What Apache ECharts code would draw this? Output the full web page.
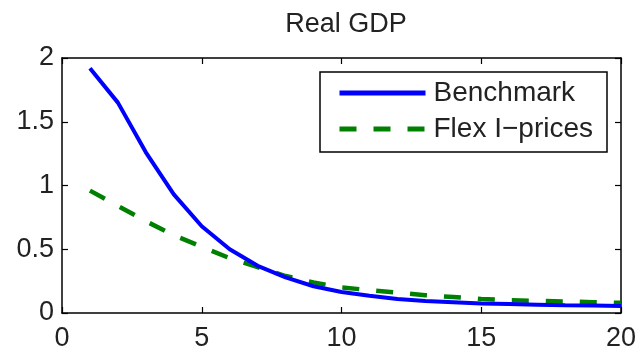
<!DOCTYPE html>
<html>
<head>
<meta charset="utf-8">
<script src="https://cdn.jsdelivr.net/npm/echarts@6/dist/echarts.min.js"></script>
<style>html,body{margin:0;padding:0;background:#fff}#c{width:640px;height:353px}</style>
</head>
<body>
<div id="c"></div>
<script>
var periods = [1,2,3,4,5,6,7,8,9,10,11,12,13,14,15,16,17,18,19,20];
var benchmark = [1.92,1.65,1.26,0.93,0.68,0.50,0.37,0.28,0.21,0.165,0.135,0.11,0.095,0.085,0.075,0.07,0.065,0.06,0.058,0.055];
var flexIPrices = [0.96,0.84,0.72,0.61,0.52,0.43,0.36,0.29,0.24,0.20,0.18,0.16,0.14,0.125,0.11,0.10,0.095,0.09,0.085,0.08];
var seriesNames = ['Benchmark','Flex I\u2212prices'];
var title = 'Real GDP';
var xTicks = {min:0, max:20, interval:5};
var yTicks = {min:0, max:2, interval:0.5};

function pairs(xs, ys){ return xs.map(function(x,i){return [x, ys[i]];}); }
var font = 'Liberation Sans, Arial, sans-serif';
var txt = '#222';
var axisBase = function(pos, t, showLabel, isX){
  return {
    type:'value', position:pos, min:t.min, max:t.max, interval:t.interval,
    axisLine:{show:true, onZero:false, lineStyle:{color:'#000', width:1.5}},
    axisTick:{show:true, inside:true, length:6, lineStyle:{color:'#000', width:1.2}},
    axisLabel:{show:showLabel, color:txt, fontSize:27, fontFamily:font, margin: isX ? 12 : 8},
    splitLine:{show:false}
  };
};
var chart = echarts.init(document.getElementById('c'), null, {renderer:'canvas'});
chart.setOption({
  animation:false,
  backgroundColor:'#fff',
  title:{text:title, left:341, textAlign:'center', top:6, textStyle:{fontSize:27, fontWeight:'normal', color:txt, fontFamily:font}},
  grid:{left:62, right:19, top:58, bottom:40, containLabel:false},
  xAxis:[axisBase('bottom', xTicks, true, true), axisBase('top', xTicks, false, true)],
  yAxis:[axisBase('left', yTicks, true, false), axisBase('right', yTicks, false, false)],
  legend:{
    orient:'vertical', left:337, top:79, itemWidth:86, itemHeight:28, itemGap:8, padding:0,
    itemStyle:{opacity:0},
    textStyle:{fontSize:28, color:txt, fontFamily:font, padding:[0,0,0,3]},
    data:[
      {name:seriesNames[0], lineStyle:{width:5}},
      {name:seriesNames[1], lineStyle:{width:5}}
    ]
  },
  graphic:[{type:'rect', z:3, shape:{x:320, y:72, width:287, height:80}, style:{fill:'#fff', stroke:'#000', lineWidth:1.5}}],
  series:[
    {name:seriesNames[0], type:'line', data:pairs(periods, benchmark), symbol:'none', lineStyle:{color:'#0000ff', width:4}, itemStyle:{color:'#0000ff'}, z:3},
    {name:seriesNames[1], type:'line', data:pairs(periods, flexIPrices), symbol:'none', lineStyle:{color:'#008000', width:4.5, type:[17,17]}, itemStyle:{color:'#008000'}, z:2}
  ]
});
</script>
</body>
</html>
